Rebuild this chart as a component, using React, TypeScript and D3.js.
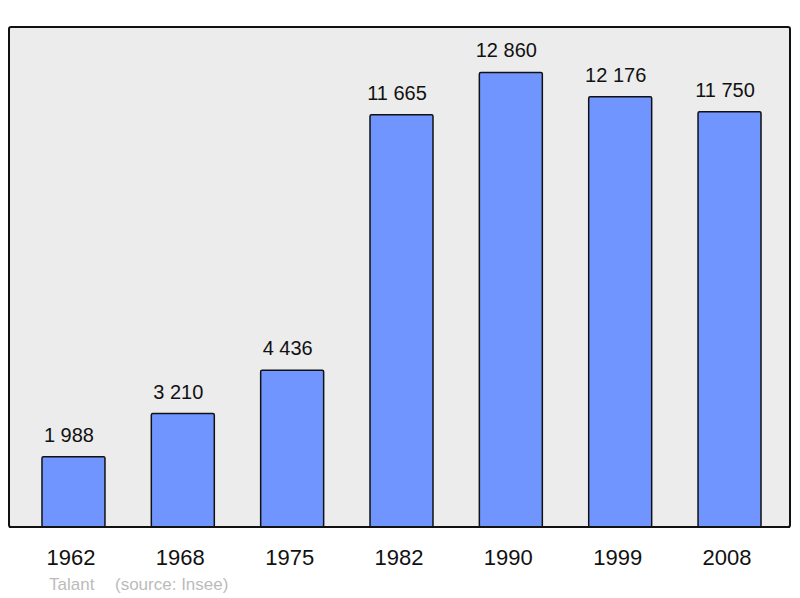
import React, { useRef, useEffect } from 'react'
import * as d3 from 'd3'

const years = ['1962', '1968', '1975', '1982', '1990', '1999', '2008']
const population = [1988, 3210, 4436, 11665, 12860, 12176, 11750]
const townName = 'Talant'
const sourceText = '(source: Insee)'

const W = 800
const H = 598
const panel = { left: 9, top: 27, right: 790, bottom: 527 }
const fmt = (v: number) => d3.format(',')(v).replace(/,/g, ' ')

const App = () => {
  const svgRef = useRef<SVGSVGElement>(null)

  useEffect(() => {
    const svg = d3.select(svgRef.current)
    svg.selectAll('*').remove()

    const x = d3
      .scaleBand()
      .domain(years)
      .range([18.8, 784.2])
      .paddingInner(0.424)
      .paddingOuter(0.212)

    const y = d3
      .scaleLinear()
      .domain([0, d3.max(population)! * 1.1])
      .range([panel.bottom, panel.top])

    // panel background
    svg
      .append('rect')
      .attr('x', panel.left)
      .attr('y', panel.top)
      .attr('width', panel.right - panel.left)
      .attr('height', panel.bottom - panel.top)
      .attr('rx', 2)
      .attr('fill', '#ececec')
      .attr('stroke', '#111')
      .attr('stroke-width', 2)

    const rows = years.map((yr, i) => ({ yr, v: population[i] }))

    // bars
    svg
      .append('g')
      .selectAll('rect')
      .data(rows)
      .join('rect')
      .attr('x', (d) => x(d.yr)!)
      .attr('y', (d) => y(d.v))
      .attr('width', x.bandwidth())
      .attr('height', (d) => panel.bottom - y(d.v))
      .attr('rx', 1.5)
      .attr('fill', '#7095ff')
      .attr('stroke', '#111')
      .attr('stroke-width', 1.5)

    // redraw bottom line over the bars
    svg
      .append('line')
      .attr('x1', panel.left)
      .attr('x2', panel.right)
      .attr('y1', panel.bottom)
      .attr('y2', panel.bottom)
      .attr('stroke', '#111')
      .attr('stroke-width', 2)

    // value labels (sit a little left of the bar centre, as in the original)
    svg
      .append('g')
      .selectAll('text')
      .data(rows)
      .join('text')
      .attr('x', (d) => x(d.yr)! + x.bandwidth() / 2 - 4.5)
      .attr('y', (d) => y(d.v) - 15)
      .attr('text-anchor', 'middle')
      .attr('font-family', '"Liberation Sans", Arial, sans-serif')
      .attr('font-size', 20)
      .attr('fill', '#111')
      .text((d) => fmt(d.v))

    // year labels
    svg
      .append('g')
      .selectAll('text')
      .data(years)
      .join('text')
      .attr('x', (d) => x(d)! + x.bandwidth() / 2 - 2.5)
      .attr('y', 565)
      .attr('text-anchor', 'middle')
      .attr('font-family', '"Liberation Sans", Arial, sans-serif')
      .attr('font-size', 22)
      .attr('fill', '#111')
      .text((d) => d)

    // footer
    const foot = svg
      .append('g')
      .attr('font-family', '"Liberation Sans", Arial, sans-serif')
      .attr('font-size', 17)
      .attr('fill', '#bbbbbb')
    foot.append('text').attr('x', 49).attr('y', 590).text(townName)
    foot.append('text').attr('x', 115).attr('y', 590).text(sourceText)
  }, [])

  return (
    <svg
      ref={svgRef}
      width={W}
      height={H}
      style={{ position: 'absolute', left: 0, top: 0, background: '#fff' }}
    />
  )
}

export default App
